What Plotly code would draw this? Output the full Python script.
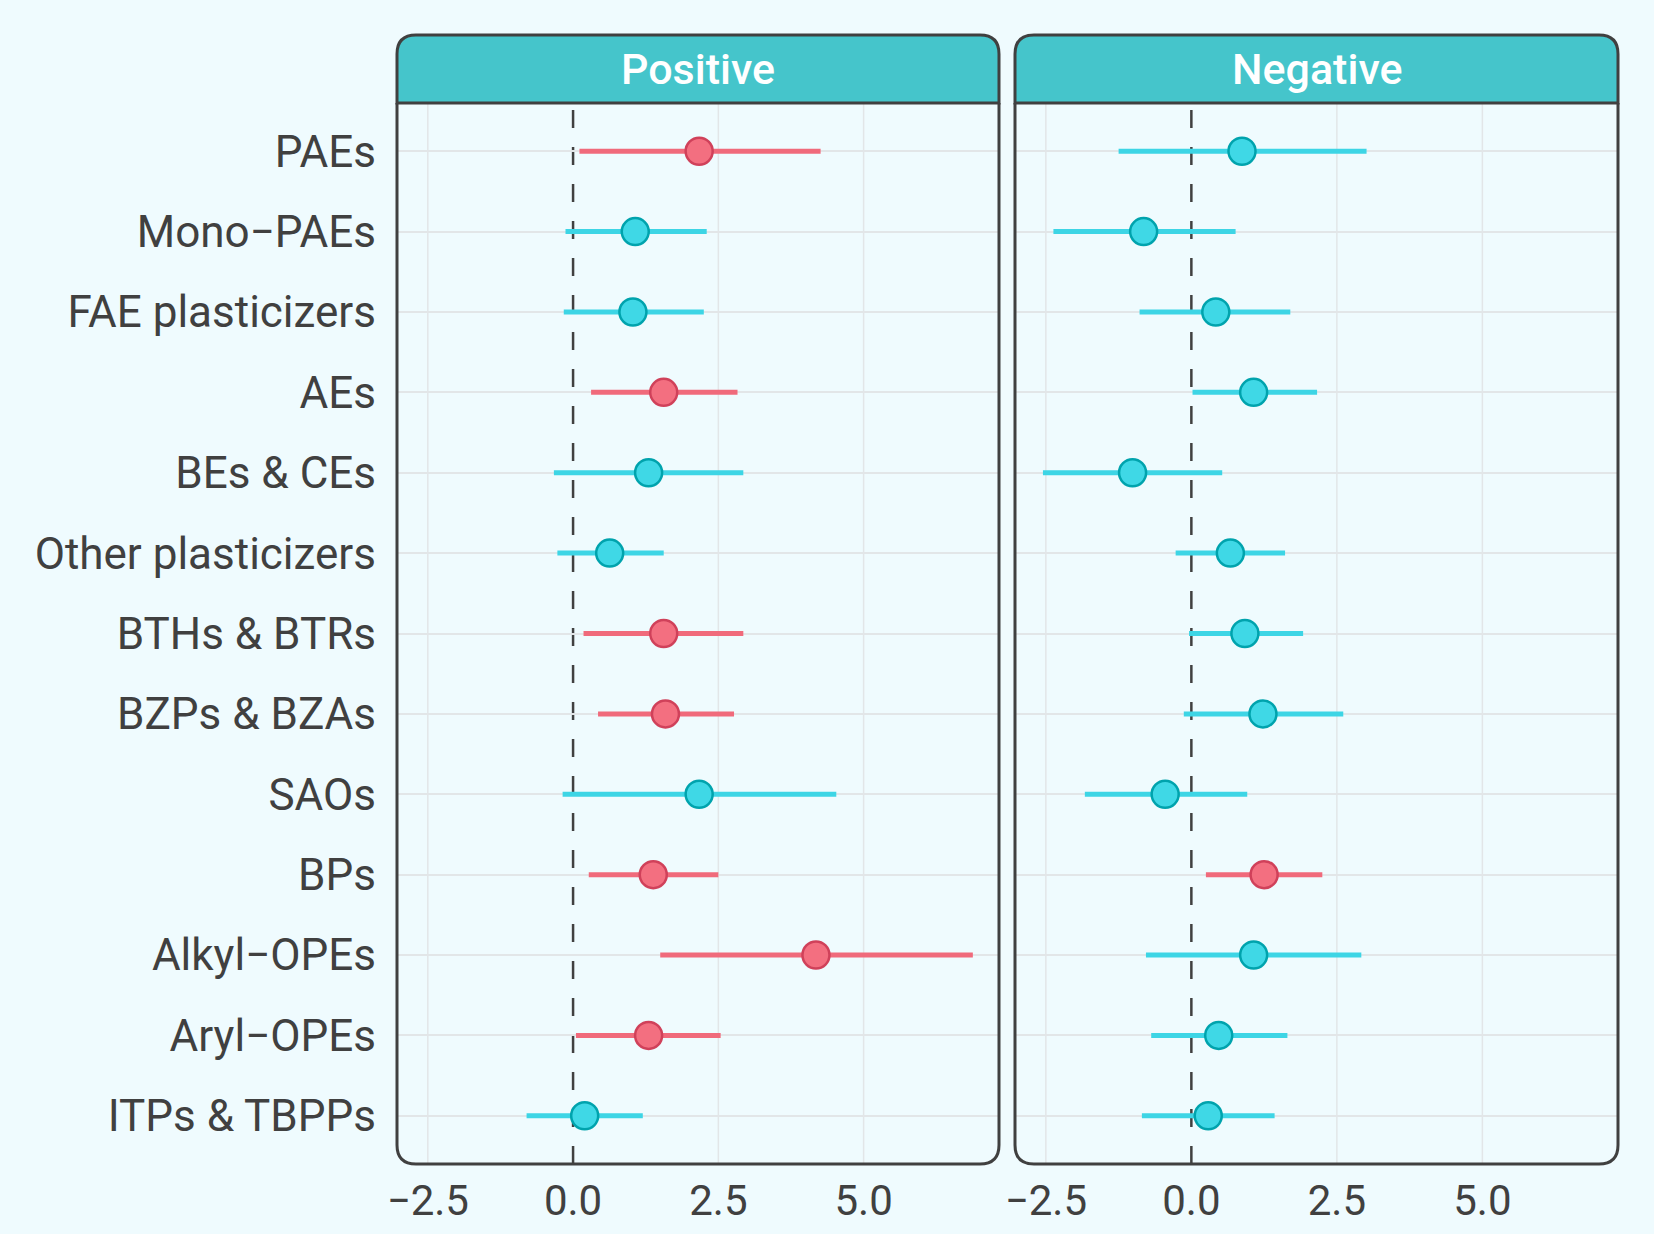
import plotly.graph_objects as go

# categories top to bottom
categories = [
    "PAEs", "Mono−PAEs", "FAE plasticizers", "AEs", "BEs & CEs",
    "Other plasticizers", "BTHs & BTRs", "BZPs & BZAs", "SAOs", "BPs",
    "Alkyl−OPEs", "Aryl−OPEs", "ITPs & TBPPs",
]

# Positive panel: estimate, lower, upper, significant?
pos_est = [2.17, 1.07, 1.03, 1.56, 1.30, 0.63, 1.56, 1.59, 2.17, 1.38, 4.18, 1.30, 0.20]
pos_lo = [0.11, -0.13, -0.16, 0.31, -0.33, -0.27, 0.18, 0.43, -0.18, 0.27, 1.50, 0.05, -0.80]
pos_hi = [4.26, 2.30, 2.25, 2.83, 2.93, 1.56, 2.93, 2.77, 4.53, 2.50, 6.88, 2.54, 1.20]
pos_sig = [1, 0, 0, 1, 0, 0, 1, 1, 0, 1, 1, 1, 0]

# Negative panel
neg_est = [0.87, -0.82, 0.42, 1.07, -1.01, 0.67, 0.92, 1.23, -0.45, 1.25, 1.07, 0.47, 0.29]
neg_lo = [-1.25, -2.37, -0.89, 0.02, -2.55, -0.27, -0.04, -0.13, -1.83, 0.25, -0.78, -0.69, -0.85]
neg_hi = [3.01, 0.76, 1.70, 2.16, 0.53, 1.61, 1.92, 2.61, 0.96, 2.25, 2.92, 1.65, 1.43]
neg_sig = [0, 0, 0, 0, 0, 0, 0, 0, 0, 1, 0, 0, 0]

panels = ["Positive", "Negative"]
x_ticks = [-2.5, 0.0, 2.5, 5.0]

BG = "#effbfe"
DARK = "#404040"
GRID = "#e2e6e8"
STRIP = "#45c5cb"
RED = {"line": "#f06a7b", "fill": "#f36f80", "edge": "#d0415a"}
CYAN = {"line": "#3dd5e5", "fill": "#3fd8e6", "edge": "#00a3ad"}

W, H = 1654, 1234
ml, mr, mt, mb = 397, 36, 35, 70
pw, ph = W - ml - mr, H - mt - mb
domains = [[0, (999 - ml) / pw], [(1015 - ml) / pw, 1]]
ytop = (H - mb - 103) / ph

fig = go.Figure()

data = [(pos_est, pos_lo, pos_hi, pos_sig), (neg_est, neg_lo, neg_hi, neg_sig)]
for i, (est, lo, hi, sig) in enumerate(data):
    xa = "x" if i == 0 else "x2"
    ya = "y" if i == 0 else "y2"
    for flag, col in [(0, CYAN), (1, RED)]:
        idx = [k for k in range(len(categories)) if sig[k] == flag]
        if not idx:
            continue
        fig.add_trace(go.Scatter(
            x=[est[k] for k in idx],
            y=[categories[k] for k in idx],
            mode="markers",
            marker=dict(size=27, color=col["fill"], line=dict(color=col["edge"], width=2.5)),
            error_x=dict(
                type="data", symmetric=False,
                array=[hi[k] - est[k] for k in idx],
                arrayminus=[est[k] - lo[k] for k in idx],
                width=0, thickness=5, color=col["line"],
            ),
            xaxis=xa, yaxis=ya, showlegend=False,
        ))

axis_common = dict(
    range=[-3.03, 7.33], tickvals=x_ticks, tickformat=".1f",
    showgrid=False, zeroline=False, automargin=False,
    showline=False, ticks="", ticklabelstandoff=8,
    tickfont=dict(family="Roboto", size=42, color=DARK),
)
yaxis_common = dict(
    type="category", categoryarray=categories, range=[12.6, -0.6],
    showgrid=True, gridcolor=GRID, gridwidth=1.5, zeroline=False,
    showline=False, ticks="", domain=[0, ytop], automargin=False,
    tickfont=dict(family="Roboto", size=44, color=DARK),
)

fig.update_layout(
    width=W, height=H,
    margin=dict(l=ml, r=mr, t=mt, b=mb),
    paper_bgcolor=BG, plot_bgcolor=BG,
    xaxis=dict(domain=domains[0], anchor="y", **axis_common),
    xaxis2=dict(domain=domains[1], anchor="y2", **axis_common),
    yaxis=dict(anchor="x", ticklabelstandoff=20, **yaxis_common),
    yaxis2=dict(anchor="x2", matches="y", showticklabels=False, **yaxis_common),
)

rx, ry = 19 / pw, 19 / ph
shapes = []
for i, (x0, x1) in enumerate(domains):
    xa = "x" if i == 0 else "x2"
    ya = "y" if i == 0 else "y2"
    # vertical grid lines (zero is replaced by the dashed reference line)
    for t in x_ticks:
        if t == 0:
            continue
        shapes.append(dict(
            type="line", xref=xa, yref=ya + " domain", x0=t, x1=t, y0=0, y1=1,
            line=dict(color=GRID, width=1.5), layer="below",
        ))
    # dashed zero line
    shapes.append(dict(
        type="line", xref=xa, yref=ya + " domain", x0=0, x1=0, y0=0, y1=1,
        line=dict(color=DARK, width=2.5, dash="18px,19px"), layer="below",
    ))
    # strip with rounded top corners
    shapes.append(dict(
        type="path", xref="paper", yref="paper", layer="above",
        path=(f"M {x0},{ytop} L {x0},{1 - ry} Q {x0},1 {x0 + rx},1 "
              f"L {x1 - rx},1 Q {x1},1 {x1},{1 - ry} L {x1},{ytop} Z"),
        fillcolor=STRIP, line=dict(color=DARK, width=3),
    ))
    # panel border with rounded bottom corners
    shapes.append(dict(
        type="path", xref="paper", yref="paper", layer="above",
        path=(f"M {x0},{ytop} L {x0},{ry} Q {x0},0 {x0 + rx},0 "
              f"L {x1 - rx},0 Q {x1},0 {x1},{ry} L {x1},{ytop}"),
        line=dict(color=DARK, width=3),
    ))

fig.update_layout(shapes=shapes)

for i, name in enumerate(panels):
    x0, x1 = domains[i]
    fig.add_annotation(
        text=name, xref="paper", yref="paper",
        x=(x0 + x1) / 2, y=(ytop + 1) / 2, showarrow=False,
        font=dict(family="Roboto", size=43, color="white", weight=500),
        xanchor="center", yanchor="middle",
    )

fig.write_html(
    "out.html",
    config={"displayModeBar": False},
    post_script="document.body.style.margin='0';",
)
